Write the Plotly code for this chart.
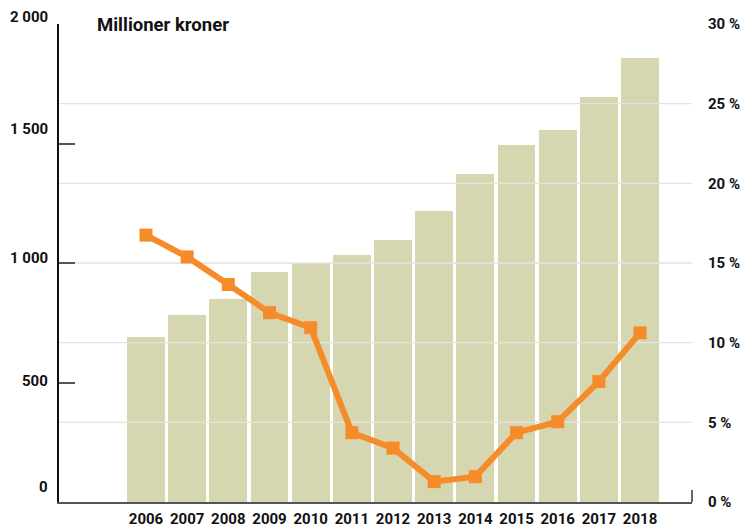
import plotly.graph_objects as go

years = [2006, 2007, 2008, 2009, 2010, 2011, 2012, 2013, 2014, 2015, 2016, 2017, 2018]
mill_kroner = [692, 784, 851, 962, 1001, 1033, 1096, 1218, 1372, 1494, 1556, 1695, 1858]
prosent = [16.75, 15.38, 13.65, 11.88, 10.94, 4.35, 3.38, 1.28, 1.59, 4.35, 5.04, 7.56, 10.62]
left_ticks = [0, 500, 1000, 1500, 2000]
left_labels = ["0", "500", "1 000", "1 500", "2 000"]
right_ticks = [0, 5, 10, 15, 20, 25, 30]
right_labels = ["0 %", "5 %", "10 %", "15 %", "20 %", "25 %", "30 %"]
title_text = "Millioner kroner"

FONT = "Roboto"
BAR_COLOR = "#D6D6B1"
LINE_COLOR = "#F68B2A"
LABEL_FONT = dict(family=FONT, size=15, color="#111", weight="bold")

xmin, xmax = years[0] - 2.113, years[-1] + 1.262

fig = go.Figure()
fig.add_trace(go.Bar(x=years, y=mill_kroner, width=0.92, marker=dict(color=BAR_COLOR, line=dict(width=0)),
                     yaxis="y", showlegend=False, hoverinfo="skip"))

# gridlines drawn above bars, below the line
gx, gy = [], []
for t in right_ticks[1:-1]:
    gx += [xmin, xmax, None]
    gy += [t, t, None]
fig.add_trace(go.Scatter(x=gx, y=gy, mode="lines", line=dict(color="#E3E3E0", width=1.3),
                         yaxis="y2", showlegend=False, hoverinfo="skip"))

fig.add_trace(go.Scatter(x=years, y=prosent, mode="lines+markers", yaxis="y2",
                         line=dict(color=LINE_COLOR, width=6),
                         marker=dict(symbol="square", size=13, color=LINE_COLOR),
                         showlegend=False))

fig.update_layout(
    width=743, height=528,
    margin=dict(l=59, r=51, t=24, b=26, autoexpand=False),
    plot_bgcolor="white", paper_bgcolor="white",
    bargap=0,
    font=dict(family=FONT, size=15, color="#111"),
    xaxis=dict(range=[xmin, xmax], tickvals=years, ticktext=[str(y) for y in years],
               showgrid=False, zeroline=False, showline=True, linecolor="#555", linewidth=2,
               ticks="", tickfont=LABEL_FONT, ticklabelstandoff=2, automargin=False),
    yaxis=dict(range=[0, 2000], tickvals=left_ticks, showticklabels=False, showgrid=False,
               zeroline=False, showline=True, linecolor="#111", linewidth=1.5,
               ticks="inside", ticklen=16, tickcolor="#555", tickwidth=1.5, automargin=False),
    yaxis2=dict(range=[0, 30], overlaying="y", side="right", tickvals=right_ticks,
                ticktext=right_labels, showgrid=False, zeroline=False, showline=False,
                ticks="", ticklabelstandoff=15, automargin=False,
                tickfont=LABEL_FONT),
)

shifts = [15, 2, 5, 15, 7]
for v, lab, s in zip(left_ticks, left_labels, shifts):
    fig.add_annotation(x=0, xref="paper", y=v, yref="y", text=lab, showarrow=False,
                       xanchor="right", yanchor="middle", xshift=-9, yshift=s,
                       font=LABEL_FONT)

fig.add_annotation(x=(95 - 59) / 633, xref="paper", y=1, yref="paper", text=title_text,
                   showarrow=False, xanchor="left", yanchor="middle", yshift=-1,
                   font=dict(family=FONT, size=18.5, color="#111", weight="bold"))

# short vertical tick at right end of baseline
fig.add_shape(type="line", xref="x domain", yref="paper", x0=1, x1=1, y0=0, y1=12 / 478,
              line=dict(color="#333", width=1.5))

fig.write_html("out.html", config={"displayModeBar": False},
               post_script="document.body.style.margin='0';document.body.style.overflow='hidden';")
